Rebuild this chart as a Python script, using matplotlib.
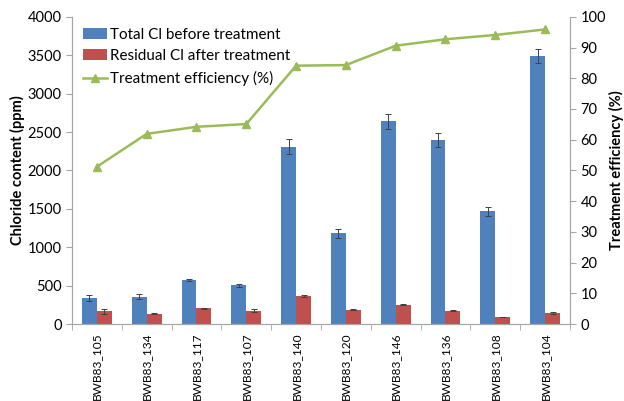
import numpy as np
import matplotlib.pyplot as plt

plt.rcParams['font.family'] = ['Lato', 'DejaVu Sans']

samples = ['BWB83_105', 'BWB83_134', 'BWB83_117', 'BWB83_107', 'BWB83_140',
           'BWB83_120', 'BWB83_146', 'BWB83_136', 'BWB83_108', 'BWB83_104']
total_cl = [340, 355, 575, 505, 2310, 1180, 2640, 2400, 1470, 3490]
total_err = [35, 35, 15, 22, 100, 60, 100, 90, 60, 85]
resid_cl = [165, 135, 205, 175, 365, 185, 250, 175, 90, 140]
resid_err = [30, 10, 4, 15, 10, 6, 8, 12, 5, 15]
efficiency = [51.2, 61.9, 64.2, 65.1, 84.1, 84.3, 90.6, 92.7, 94.1, 95.9]

blue = '#4F81BD'
red = '#C0504D'
green = '#9BBB59'
grey = '#A6A6A6'

fig = plt.figure(figsize=(6.24, 4.01), dpi=100)
ax = fig.add_axes([0.1154, 0.192, 0.798, 0.766])
ax2 = ax.twinx()

x = np.arange(len(samples))
w = 0.3
ax.bar(x - w / 2, total_cl, w, color=blue, yerr=total_err, capsize=2,
       error_kw=dict(elinewidth=0.7, capthick=0.7, ecolor='#404040'),
       label='Total Cl before treatment', zorder=2)
ax.bar(x + w / 2, resid_cl, w, color=red, yerr=resid_err, capsize=2,
       error_kw=dict(elinewidth=0.7, capthick=0.7, ecolor='#404040'),
       label='Residual Cl after treatment', zorder=2)
ax2.plot(x, efficiency, color=green, marker='^', markersize=5.5, linewidth=1.8,
         label='Treatment efficiency (%)')

ax.set_xlim(-0.5, len(samples) - 0.5)
ax.set_ylim(0, 4000)
ax.set_yticks(range(0, 4001, 500))
ax2.set_ylim(0, 100)
ax2.set_yticks(range(0, 101, 10))

ax.set_xticks(x)
ax.set_xticklabels(samples, rotation=90, fontsize=8.6)
ax.set_xticks(np.arange(-0.5, len(samples), 1), minor=True)
ax.tick_params(axis='x', which='major', length=0, pad=6)
ax.tick_params(axis='x', which='minor', length=4, color=grey)
ax.tick_params(axis='y', labelsize=10.5, length=4, color=grey)
ax2.tick_params(axis='y', labelsize=10.5, length=4, color=grey)

for a in (ax, ax2):
    a.spines['top'].set_visible(False)
    for s in ('left', 'right', 'bottom'):
        a.spines[s].set_color(grey)

ax.set_ylabel('Chloride content (ppm)', fontsize=10.5, fontweight='bold', labelpad=2)
ax2.set_ylabel('Treatment efficiency (%)', fontsize=10.5, fontweight='bold', labelpad=2)

h1, l1 = ax.get_legend_handles_labels()
h2, l2 = ax2.get_legend_handles_labels()
leg = ax2.legend(h1 + h2, l1 + l2, loc='upper left', frameon=False,
                 fontsize=11, handlelength=1.6, handletextpad=0.2,
                 borderaxespad=0.3, labelspacing=0.5,
                 bbox_to_anchor=(0.0, 1.0))

fig.savefig('out.png', dpi=100)
